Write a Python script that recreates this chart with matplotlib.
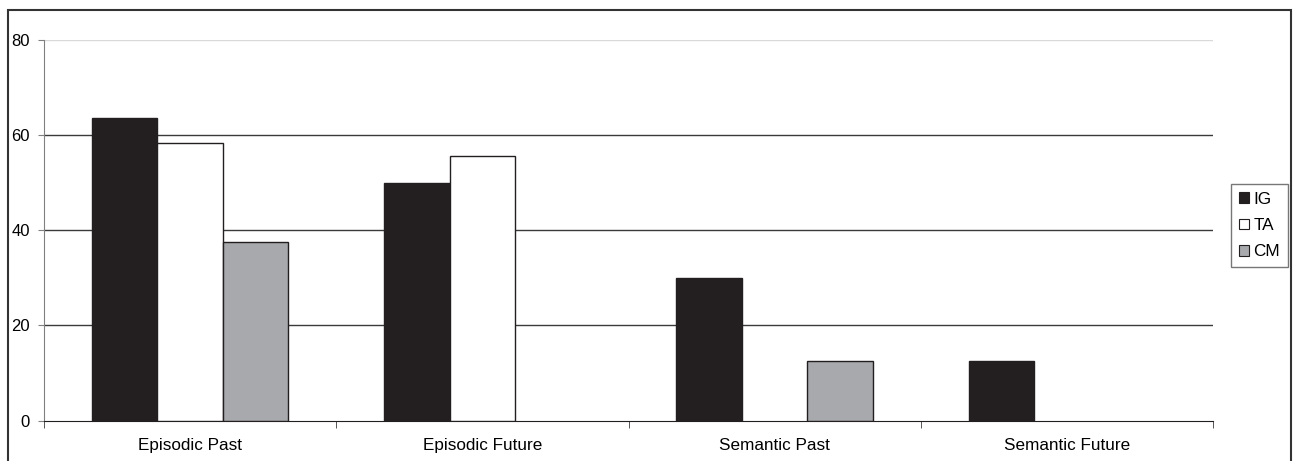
import matplotlib.pyplot as plt
import numpy as np
from matplotlib.patches import Rectangle, Patch

plt.rcParams['font.family'] = ['Liberation Sans', 'DejaVu Sans']

categories = ['Episodic Past', 'Episodic Future', 'Semantic Past', 'Semantic Future']
ig = [63.6, 50.0, 30.0, 12.5]
ta = [58.3, 55.6, 0, 0]
cm = [37.5, 0, 12.5, 0]
series_names = ['IG', 'TA', 'CM']

W, H = 1299, 461
fig = plt.figure(figsize=(W / 100, H / 100), dpi=100)
ax = fig.add_axes([44 / W, 40.5 / H, (1213 - 44) / W, (420.5 - 40) / H])

x = np.arange(len(categories))
bw = 0.224
fills = ['#231f20', '#ffffff', '#a7a9ac']
for i, (vals, fc) in enumerate(zip([ig, ta, cm], fills)):
    v = np.array(vals, dtype=float)
    keep = v > 0
    ax.bar(x[keep] + (i - 1) * bw, v[keep], width=bw, color=fc,
           edgecolor='#231f20', linewidth=1.0, zorder=3)

ax.set_xlim(-0.5, 3.5)
ax.set_ylim(0, 80)
ax.set_yticks([0, 20, 40, 60, 80])
for yv in [20, 40, 60]:
    ax.axhline(yv, color='#3a3a3a', lw=1.0, zorder=1)
ax.axhline(80, color='#d9d9d9', lw=1.0, zorder=1)

ax.set_xticks(x)
ax.set_xticklabels(categories)
ax.set_xticks(np.arange(-0.5, 4.0, 1.0), minor=True)
ax.tick_params(axis='x', which='major', length=0, pad=12.5, labelsize=12.3)
ax.tick_params(axis='x', which='minor', length=5, direction='out', color='#3a3a3a')
ax.tick_params(axis='y', length=4, direction='out', color='#808080', pad=6, labelsize=12)

for s in ['top', 'right']:
    ax.spines[s].set_visible(False)
ax.spines['left'].set_color('#808080')
ax.spines['bottom'].set_color('#231f20')

handles = [Patch(facecolor=fc, edgecolor='#231f20', linewidth=0.8) for fc in fills]
leg = fig.legend(handles, series_names, loc='center',
                 bbox_to_anchor=(1259.5 / W, 1 - 225.5 / H), fontsize=12.3,
                 frameon=True, fancybox=False, handlelength=0.6, handleheight=0.6,
                 handletextpad=0.25, labelspacing=0.65, borderpad=0.45, borderaxespad=0)
leg.get_frame().set_edgecolor('#555555')
leg.get_frame().set_linewidth(1.0)

fig.patches.append(Rectangle((8 / W, -0.1), (1291 - 8) / W, (H - 10) / H + 0.1,
                             transform=fig.transFigure, fill=False,
                             edgecolor='#333333', linewidth=1.5))

fig.savefig('out.png', dpi=100)
